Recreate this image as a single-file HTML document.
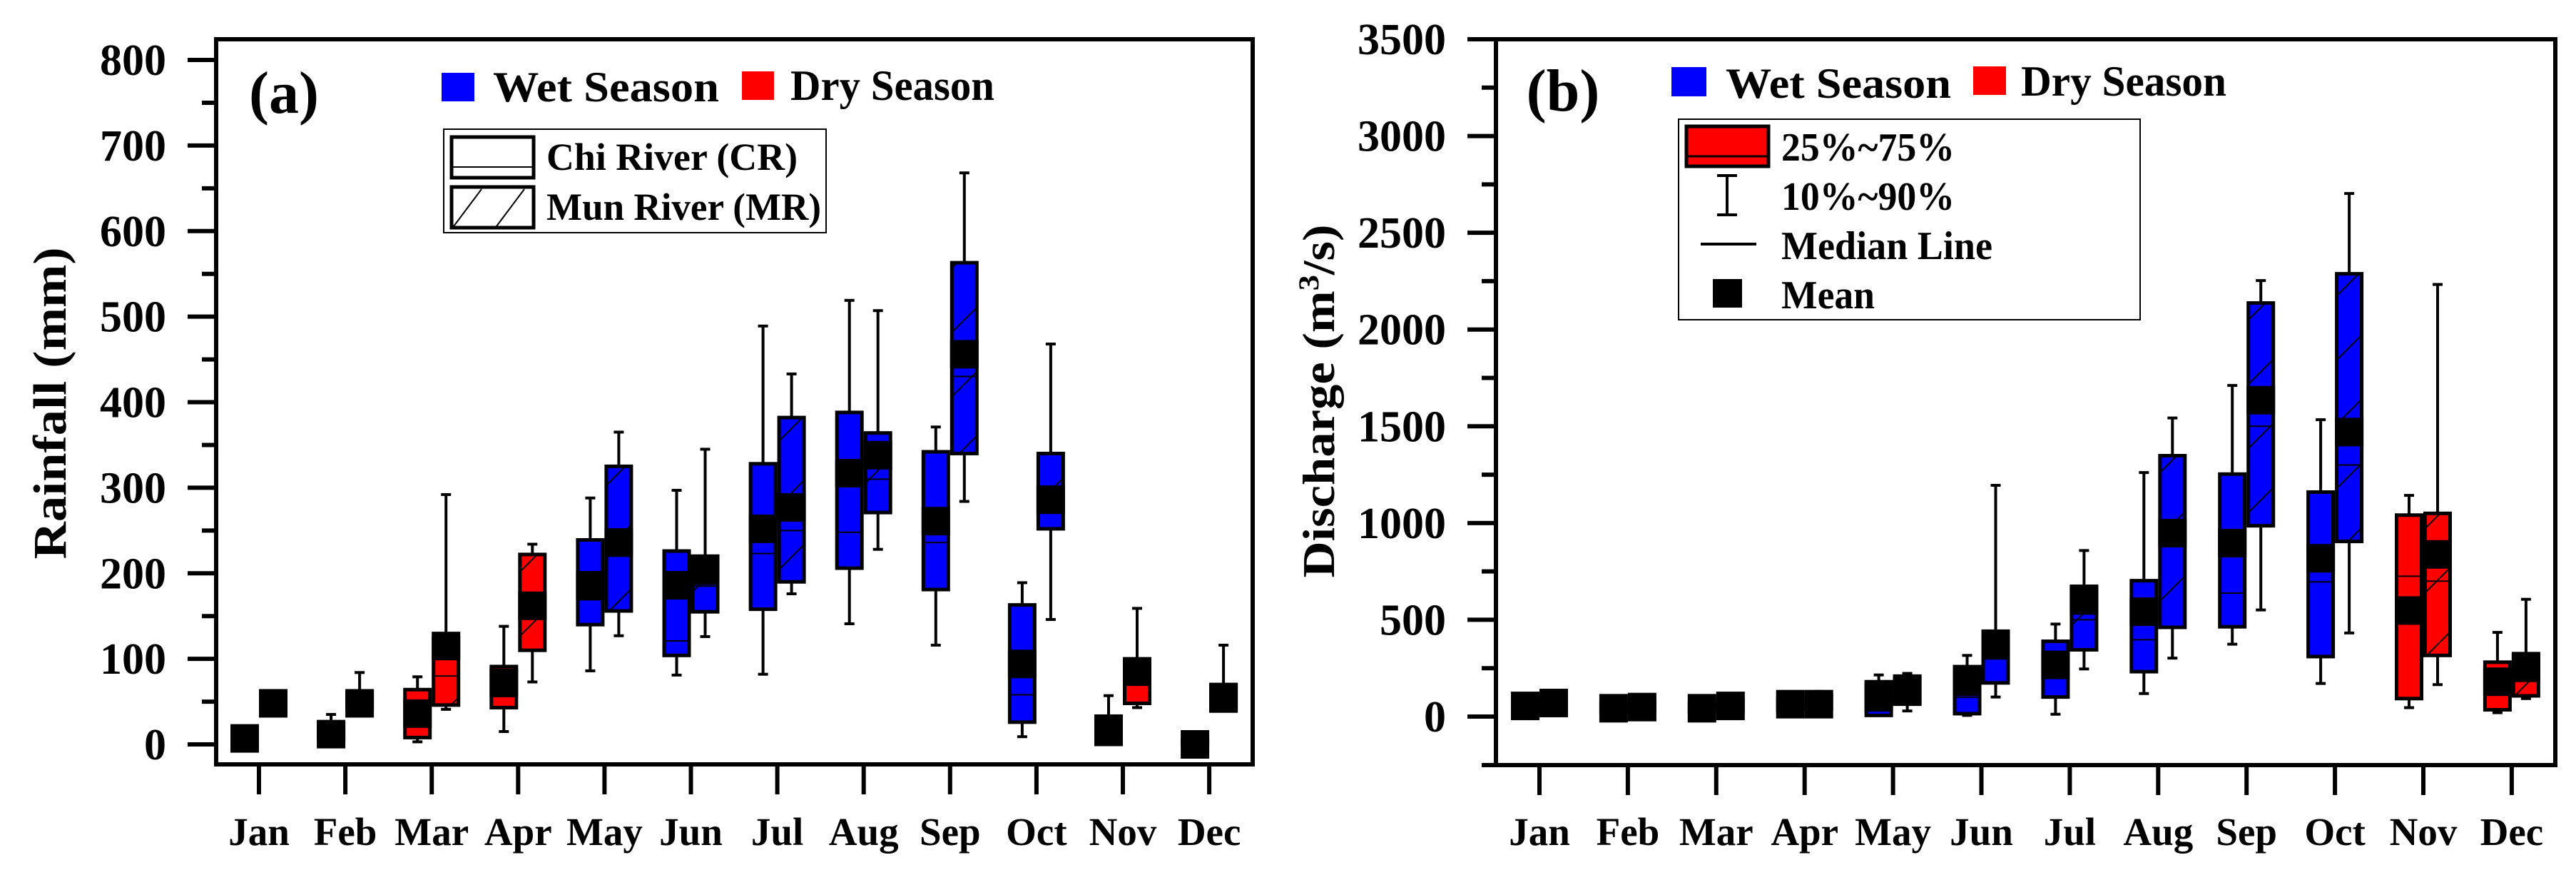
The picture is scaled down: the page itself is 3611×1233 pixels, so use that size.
<!DOCTYPE html>
<html><head><meta charset="utf-8"><style>
html,body{margin:0;padding:0;background:#fff;}
svg{display:block;font-family:"Liberation Serif",serif;font-weight:bold;}
</style></head><body>
<svg id="chart" width="3611" height="1233" viewBox="0 0 3611 1233" xmlns="http://www.w3.org/2000/svg">
<defs>
<pattern id="hatch" patternUnits="userSpaceOnUse" width="90" height="90">
<line x1="0" y1="90" x2="90" y2="0" stroke="#000" stroke-width="2"/>
</pattern>
</defs>
<g id="panelA"></g>
<g id="panelB"></g>

<text x="398" y="158" font-size="84" text-anchor="middle">(a)</text>
<text transform="translate(92,565) rotate(-90)" font-size="66" text-anchor="middle" textLength="437" lengthAdjust="spacingAndGlyphs">Rainfall (mm)</text>
<g>
<rect x="619" y="102" width="46" height="40" fill="#0000ff"/>
<text x="691" y="142" font-size="60" textLength="317" lengthAdjust="spacingAndGlyphs">Wet Season</text>
<rect x="1040" y="100" width="45" height="40" fill="#ff0000"/>
<text x="1108" y="140" font-size="60" textLength="286" lengthAdjust="spacingAndGlyphs">Dry Season</text>
</g>
<g>
<rect x="622" y="181" width="536" height="145" fill="#fff" stroke="#000" stroke-width="2"/>
<rect x="633" y="192" width="115" height="57" fill="#fff" stroke="#000" stroke-width="5"/>
<line x1="633" y1="234" x2="748" y2="234" stroke="#000" stroke-width="2"/>
<text x="766" y="238" font-size="54" textLength="352" lengthAdjust="spacingAndGlyphs">Chi River (CR)</text>
<rect x="633" y="262" width="115" height="57" fill="#fff" stroke="#000" stroke-width="5"/>
<line x1="636" y1="317" x2="675" y2="265" stroke="#000" stroke-width="2"/>
<line x1="696" y1="317" x2="735" y2="265" stroke="#000" stroke-width="2"/>
<text x="766" y="308" font-size="54" textLength="385" lengthAdjust="spacingAndGlyphs">Mun River (MR)</text>
</g>

<text x="2191" y="155" font-size="84" text-anchor="middle">(b)</text>
<text transform="translate(1870,562) rotate(-90)" font-size="64" text-anchor="middle" textLength="495" lengthAdjust="spacingAndGlyphs">Discharge (m<tspan font-size="40" dy="-22">3</tspan><tspan dy="22">/s)</tspan></text>
<g>
<rect x="2343" y="94" width="49" height="41" fill="#0000ff"/>
<text x="2419" y="137" font-size="60" textLength="316" lengthAdjust="spacingAndGlyphs">Wet Season</text>
<rect x="2766" y="93" width="46" height="40" fill="#ff0000"/>
<text x="2833" y="134" font-size="60" textLength="288" lengthAdjust="spacingAndGlyphs">Dry Season</text>
</g>
<g>
<rect x="2353" y="167" width="647" height="281" fill="#fff" stroke="#000" stroke-width="2"/>
<rect x="2364" y="177" width="115" height="56" fill="#ff0000" stroke="#000" stroke-width="5"/>
<line x1="2364" y1="219" x2="2479" y2="219" stroke="#000" stroke-width="3"/>
<text x="2497" y="225" font-size="56" textLength="243" lengthAdjust="spacingAndGlyphs">25%~75%</text>
<g>
<line x1="2421" y1="246" x2="2421" y2="301" stroke="#000" stroke-width="4"/>
<line x1="2407" y1="246" x2="2435" y2="246" stroke="#000" stroke-width="4"/>
<line x1="2407" y1="301" x2="2435" y2="301" stroke="#000" stroke-width="4"/>
</g>
<text x="2497" y="294" font-size="56" textLength="243" lengthAdjust="spacingAndGlyphs">10%~90%</text>
<line x1="2384" y1="342" x2="2462" y2="342" stroke="#000" stroke-width="4"/>
<text x="2497" y="363" font-size="56" textLength="296" lengthAdjust="spacingAndGlyphs">Median Line</text>
<rect x="2401" y="391" width="41" height="40" fill="#000"/>
<text x="2497" y="432" font-size="56" textLength="131" lengthAdjust="spacingAndGlyphs">Mean</text>
</g>
</svg>
<script>
const months = ["Jan","Feb","Mar","Apr","May","Jun","Jul","Aug","Sep","Oct","Nov","Dec"];
const wetSeason = [false,false,false,false,true,true,true,true,true,true,false,false];

const aTicks = [0,100,200,300,400,500,600,700,800];
const aCR_p10  = [2,5,3,15,86,81,82,141,116,9,0,0];
const aCR_q1   = [3,6,8,43,140,104,158,206,181,26,0,0];
const aCR_med  = [6,10,30,56,169,121,223,248,236,58,12,0];
const aCR_q3   = [10,25,64,91,239,226,328,388,342,163,33,5];
const aCR_p90  = [15,35,79,138,288,297,489,519,371,189,57,8];
const aCR_mean = [7,12,36,72,186,186,252,317,261,94,16,0];
const aMR_p10  = [40,40,41,73,127,126,176,228,284,146,43,39];
const aMR_q1   = [42,42,46,110,156,155,190,271,340,252,48,39];
const aMR_med  = [48,48,80,150,220,185,250,310,430,300,70,50];
const aMR_q3   = [55,60,125,222,325,220,382,364,563,340,100,70];
const aMR_p90  = [58,84,292,234,365,345,433,507,668,468,159,116];
const aMR_mean = [48,48,115,162,236,203,277,338,456,286,85,55];

const bTicks = [0,500,1000,1500,2000,2500,3000,3500];
const bCR_p10  = [20,15,15,20,5,6,12,119,374,171,46,20];
const bCR_q1   = [30,25,25,35,6,15,101,232,464,310,93,35];
const bCR_med  = [50,40,40,60,90,100,250,397,638,696,725,150];
const bCR_q3   = [80,70,70,90,180,258,389,702,1253,1160,1041,281];
const bCR_p90  = [120,95,95,125,215,316,478,1261,1711,1534,1143,435];
const bCR_mean = [55,43,43,64,99,180,267,542,896,818,548,180];
const bMR_p10  = [30,20,20,25,29,101,246,302,551,432,165,93];
const bMR_q1   = [40,30,30,40,64,174,345,461,986,905,316,107];
const bMR_med  = [65,45,50,60,130,300,500,900,1500,1300,700,200];
const bMR_q3   = [110,90,90,110,209,441,673,1348,2137,2288,1050,325];
const bMR_p90  = [135,100,100,130,223,1195,858,1543,2253,2703,2233,606];
const bMR_mean = [70,49,55,64,136,368,600,948,1635,1470,838,252];

const NS = "http://www.w3.org/2000/svg";
function mk(parent, tag, attrs){
  const e = document.createElementNS(NS, tag);
  for (const k in attrs) e.setAttribute(k, attrs[k]);
  parent.appendChild(e);
  return e;
}

function drawPanel(g, cfg){
  const {left,right,top,bottom,y0,yPerUnit,xJan,xStep,ticks,minorStep,maxVal,bottomExt,id} = cfg;
  const yS = v => y0 - v*yPerUnit;
  const xS = i => xJan + i*xStep;
  const fr = mk(g,'rect',{x:left,y:top,width:right-left,height:bottom-top,fill:'none',stroke:'#000','stroke-width':6});
  
  
  if (bottomExt){ mk(g,'line',{x1:left-bottomExt,y1:bottom,x2:left,y2:bottom,stroke:'#000','stroke-width':6}); }
  for (let v=0; v<=maxVal+0.001; v+=minorStep){
    const y = yS(v);
    if (y < top-2) continue;
    const major = ticks.indexOf(v) >= 0;
    mk(g,'line',{x1:left-(major?40:20),y1:y,x2:left,y2:y,stroke:'#000','stroke-width':6});
  }
  ticks.forEach(t=>{
    const tx = mk(g,'text',{x:left-70,y:yS(t)+21,'font-size':62,'text-anchor':'end'});
    tx.textContent = t;
    
    
  });
  months.forEach((m,i)=>{
    const x = xS(i);
    mk(g,'line',{x1:x,y1:bottom,x2:x,y2:bottom+42,stroke:'#000','stroke-width':6});
    const tx = mk(g,'text',{x:x,y:1184,'font-size':55,'text-anchor':'middle'});
    tx.textContent = m;
    
    
  });
  const series = [
    {off:-20, p10:cfg.cr[0], q1:cfg.cr[1], med:cfg.cr[2], q3:cfg.cr[3], p90:cfg.cr[4], mean:cfg.cr[5], hatch:false, name:'cr'},
    {off:20, p10:cfg.mr[0], q1:cfg.mr[1], med:cfg.mr[2], q3:cfg.mr[3], p90:cfg.mr[4], mean:cfg.mr[5], hatch:true, name:'mr'}
  ];
  series.forEach(s=>{
    months.forEach((m,i)=>{
      const cx = xS(i)+s.off, w = 35;
      const grp = mk(g,'g',{});
      
      
      const yTop = yS(s.q3[i]), yBot = yS(s.q1[i]);
      const yHi = yS(s.p90[i]), yLo = yS(s.p10[i]);
      mk(grp,'line',{x1:cx,y1:yHi,x2:cx,y2:yTop,stroke:'#000','stroke-width':4});
      mk(grp,'line',{x1:cx,y1:yBot,x2:cx,y2:yLo,stroke:'#000','stroke-width':4});
      mk(grp,'line',{x1:cx-7,y1:yHi,x2:cx+7,y2:yHi,stroke:'#000','stroke-width':4});
      mk(grp,'line',{x1:cx-7,y1:yLo,x2:cx+7,y2:yLo,stroke:'#000','stroke-width':4});
      const fill = wetSeason[i] ? '#0000ff' : '#ff0000';
      const h = Math.max(1,yBot-yTop);
      mk(grp,'rect',{x:cx-w/2,y:yTop,width:w,height:h,fill:fill});
      if (s.hatch) mk(grp,'rect',{x:cx-w/2,y:yTop,width:w,height:h,fill:'url(#hatch)'});
      mk(grp,'line',{x1:cx-w/2,y1:yS(s.med[i]),x2:cx+w/2,y2:yS(s.med[i]),stroke:'#000','stroke-width':2});
      mk(grp,'rect',{x:cx-w/2,y:yTop,width:w,height:h,fill:'none',stroke:'#000','stroke-width':5});
      const mean = mk(grp,'rect',{x:cx-20,y:yS(s.mean[i])-20,width:40,height:40,fill:'#000'});
      
      
    });
  });
}

drawPanel(document.getElementById('panelA'), {
  id:'rainfall', left:303, right:1756, top:55, bottom:1071, y0:1043, yPerUnit:959/800,
  xJan:363, xStep:121.1, ticks:aTicks, minorStep:50, maxVal:800, bottomExt:0,
  cr:[aCR_p10,aCR_q1,aCR_med,aCR_q3,aCR_p90,aCR_mean],
  mr:[aMR_p10,aMR_q1,aMR_med,aMR_q3,aMR_p90,aMR_mean]
});
drawPanel(document.getElementById('panelB'), {
  id:'discharge', left:2097, right:3582, top:55, bottom:1072, y0:1004, yPerUnit:949/3500,
  xJan:2158, xStep:123.9, ticks:bTicks, minorStep:250, maxVal:3500, bottomExt:20,
  cr:[bCR_p10,bCR_q1,bCR_med,bCR_q3,bCR_p90,bCR_mean],
  mr:[bMR_p10,bMR_q1,bMR_med,bMR_q3,bMR_p90,bMR_mean]
});
</script>
</body></html>
